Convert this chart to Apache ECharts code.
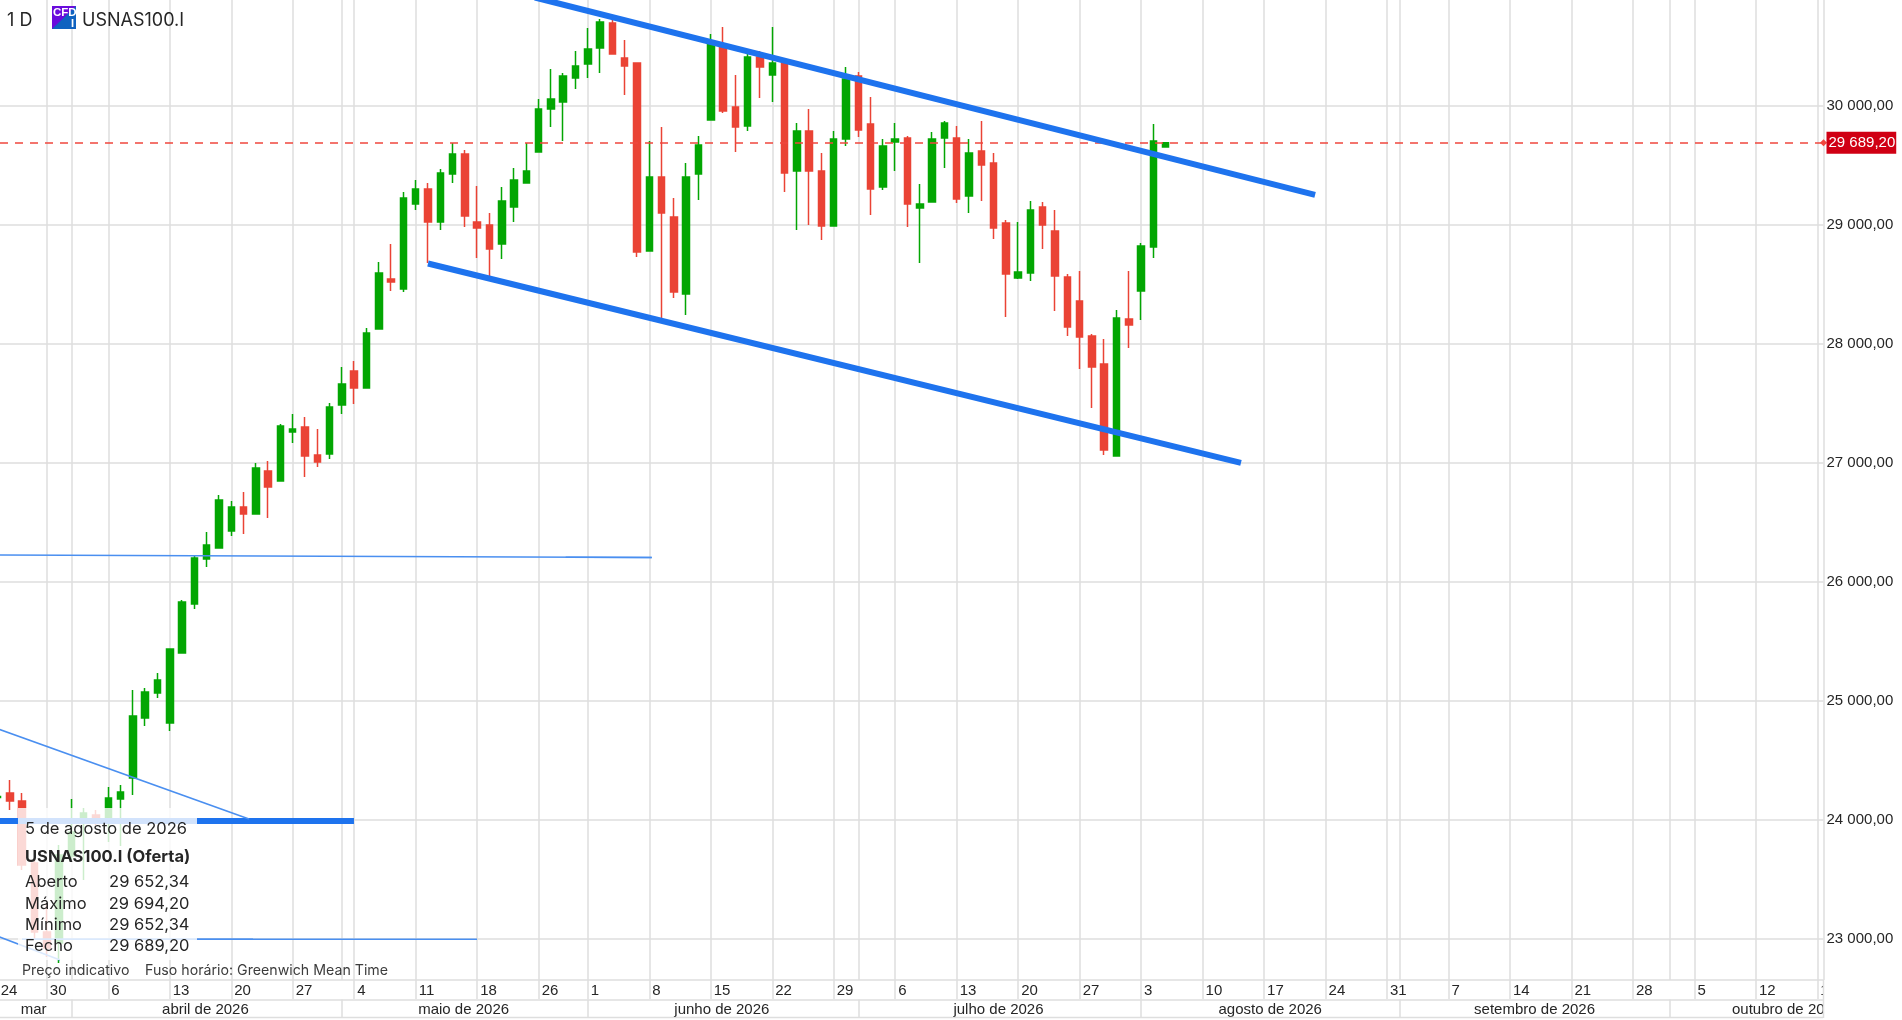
<!DOCTYPE html>
<html><head><meta charset="utf-8">
<style>html,body{margin:0;padding:0;background:#fff;overflow:hidden}#c{width:1902px;height:1020px}</style>
<script src="https://cdn.jsdelivr.net/npm/echarts@6/dist/echarts.min.js"></script>
</head><body><div id="c"></div>
<script>
const dates = [
'03-24','03-25','03-26','03-27',
'03-30','03-31','04-01','04-02','04-03','04-06','04-07','04-08','04-09','04-10','04-13','04-14','04-15','04-16','04-17',
'04-20','04-21','04-22','04-23','04-24','04-27','04-28','04-29','04-30','05-01','05-04','05-05','05-06','05-07','05-08',
'05-11','05-12','05-13','05-14','05-15','05-18','05-19','05-20','05-21','05-22','05-26','05-27','05-28','05-29',
'06-01','06-02','06-03','06-04','06-05','06-08','06-09','06-10','06-11','06-12','06-15','06-16','06-17','06-18','06-19',
'06-22','06-23','06-24','06-25','06-26','06-29','06-30','07-01','07-02','07-03','07-06','07-07','07-08','07-09','07-10',
'07-13','07-14','07-15','07-16','07-17','07-20','07-21','07-22','07-23','07-24','07-27','07-28','07-29','07-30','07-31',
'08-03','08-04','08-05','08-06','08-07','08-10','08-11','08-12','08-13','08-14','08-17','08-18','08-19','08-20','08-21',
'08-24','08-25','08-26','08-27','08-28','08-31','09-01','09-02','09-03','09-04','09-07','09-08','09-09','09-10','09-11',
'09-14','09-15','09-16','09-17','09-18','09-21','09-22','09-23','09-24','09-25','09-28','09-29','09-30','10-01','10-02',
'10-05','10-06','10-07','10-08','10-09','10-12','10-13','10-14','10-15','10-16','10-19'];
const opens = [24187,24224,24157,23636,23056,22964,23695,23981,24040,23981,24174,24350,24855,25065,24813,25401,25813,26191,26283,26426,
26628,26569,26930,26846,27258,27300,27065,27073,27485,27770,27628,28123,28544,28459,29174,29300,29023,29426,29594,29023,
28997,28838,29149,29350,29611,29972,30031,30233,30350,30485,30695,30401,30359,28779,29401,29065,28417,29426,29880,30493,
29989,29829,30409,30258,30359,29451,29787,29451,28989,29720,30249,29846,29317,29695,29728,29140,29191,29728,29728,29241,
29619,29518,29014,28552,28594,29149,28947,28560,28359,28065,27829,27056,28207,28443,28812,29652.34];
const closes = [24195,24157,23619,23056,22922,23703,23897,24056,23981,24182,24233,24871,25073,25174,25434,25829,26199,26308,26686,26628,
26569,26955,26796,27308,27283,27056,27006,27468,27661,27628,28090,28594,28518,29224,29300,29023,29434,29594,29073,28972,
28796,29199,29375,29451,29972,30056,30249,30333,30476,30703,30434,30333,28770,29401,29098,28434,29401,29670,30527,29955,
29821,30409,30325,30359,29434,29787,29451,28989,29720,30224,29796,29300,29661,29720,29174,29174,29720,29854,29216,29602,
29502,28972,28586,28602,29123,28997,28569,28140,28056,27804,27107,28216,28157,28821,29703,29689.20];
const lows = [24174,24082,23577,22989,22846,22796,23661,23493,23956,23813,23779,24208,24787,25023,24745,25401,25771,26123,26283,26384,
26401,26569,26535,26846,27165,26880,26964,27031,27409,27493,27628,28123,28443,28434,29123,28678,28955,29350,28981,28720,
28569,28712,29023,29350,29611,29821,29703,30140,30233,30275,30434,30090,28728,28779,28216,28384,28241,29207,29880,29938,
29611,29787,30065,30031,29275,28955,28997,28871,28989,29661,29737,29081,29291,29451,28981,28678,29191,29476,29182,29098,
29199,28880,28224,28544,28527,28796,28275,28065,27787,27460,27065,27056,27964,28199,28720,29652.34];
const highs = [24208,24334,24224,23661,23300,23787,24174,24098,24082,24275,24292,25090,25107,25233,25440,25846,26216,26418,26728,26678,
26754,26997,27014,27325,27409,27384,27283,27502,27804,27854,28132,28686,28838,29275,29375,29350,29468,29686,29628,29325,
29098,29317,29476,29686,30056,30308,30275,30459,30653,30728,30720,30552,30359,29703,29821,29224,29518,29745,30602,30661,
30258,30443,30459,30661,30375,29854,29972,29602,29787,30325,30283,30073,29720,29854,29745,29342,29779,29871,29829,29720,
29871,29602,29039,29023,29199,29191,29123,28586,28611,28081,28039,28283,28611,28846,29846,29694.20];
const weekDates = ['03-24','03-30','04-06','04-13','04-20','04-27','05-04','05-11','05-18','05-26','06-01','06-08','06-15','06-22','06-29','07-06','07-13','07-20','07-27','08-03','08-10','08-17','08-24','08-31','09-07','09-14','09-21','09-28','10-05','10-12','10-19'];
const monthStartDates = ['04-01','05-01','06-01','07-01','08-03','09-01','10-01'];
const monthNames = ['mar','abril de 2026','maio de 2026','junho de 2026','julho de 2026','agosto de 2026','setembro de 2026','outubro de 2026'];
const monthCentres = [2.92,16.9,37.9,58.9,81.4,103.5,125,145.5];
const priceTicks = [23000,24000,25000,26000,27000,28000,29000,30000];
const lastPrice = 29689.20;
const thickLines = [
  [[43.7,30909],[107.15,29251]],
  [[35.0,28674],[101.12,26999]],
  [[-0.5,23989],[28.98,23989]]
];
const thinLines = [
  [[-0.5,26225],[53.2,26203]],
  [[46.2,26205],[53.2,26203]],
  [[-0.5,24783],[20.44,24006]],
  [[1.98,22995],[38.99,22995]],
  [[1.98,22995],[20.77,22995]],
  [[-0.5,23040],[5.07,22821]]
];
const tooltipRows = [['Aberto','29 652,34'],['Máximo','29 694,20'],['Mínimo','29 652,34'],['Fecho','29 689,20']];

const GRID='#dedede', GREEN='#03a603', RED='#ea4335', AXF='"Liberation Sans",Arial,sans-serif', UIF='Inter,sans-serif', BLUE='#1e73ee', TXT='#262626';
const fmt = v => { const s=v.toFixed(2).split('.'); return s[0].replace(/\B(?=(\d{3})+$)/g,'\u00a0')+','+s[1]; };
const weekIdx = weekDates.map(d=>dates.indexOf(d));
const monthIdx = monthStartDates.map(d=>dates.indexOf(d));
const gridIdx = [...new Set([...weekIdx,...monthIdx])].sort((a,b)=>a-b);
const xmin=-0.5, xmax=dates.length-0.5;

const lineSeries=(d,w,c)=>({type:'line',xAxisIndex:1,yAxisIndex:0,data:d,symbol:'none',silent:true,z:6,lineStyle:{width:w,color:c,cap:'butt'},animation:false});

const txt=(text,x,y,font,extra)=>({type:'text',z:101,silent:true,style:Object.assign({text,x,y,font,fill:TXT,verticalAlign:'middle',align:'left'},extra||{})});
const graphics=[
  {type:'rect',z:90,silent:true,shape:{x:1824,y:980,width:78,height:40},style:{fill:'#fff'}},
  {type:'line',z:91,silent:true,shape:{x1:0,y1:1017.5,x2:1823,y2:1017.5},style:{stroke:GRID,lineWidth:1.5}},
  {type:'line',z:91,silent:true,shape:{x1:1823.5,y1:980,x2:1823.5,y2:1018},style:{stroke:GRID,lineWidth:1.5}},
  {type:'rect',z:100,silent:true,shape:{x:18,y:808,width:179,height:152},style:{fill:'rgba(255,255,255,0.8)'}},
  txt('5 de agosto de 2026',25,829.5,'16.5px '+UIF),
  txt('USNAS100.I (Oferta)',25,857,'bold 16.5px '+UIF),
  ...tooltipRows.flatMap((r,i)=>{const y=[882,904,925,946][i];return [txt(r[0],25,y,'16.5px '+UIF),txt(r[1],189.5,y,'16.5px '+UIF,{align:'right'})];}),
  txt('Preço indicativo',22,970.5,'14.2px '+UIF,{fill:'#3c3c3c'}),
  txt('Fuso horário: Greenwich Mean Time',145,970.5,'14.2px '+UIF,{fill:'#3c3c3c'}),
  txt('1\u00a0D',7,20.5,'18px '+UIF),
  txt('USNAS100.I',82,20.5,'18px '+UIF),
  {type:'rect',z:100,silent:true,shape:{x:52,y:6,width:24,height:23},style:{fill:'#6a0bdc'}},
  {type:'polygon',z:100,silent:true,shape:{points:[[76,6],[76,29],[52,29]]},style:{fill:'#0f62c0'}},
  txt('CFD',53,13,'bold 11.5px "Liberation Sans",sans-serif',{fill:'#fff'}),
  txt('I',71,23.5,'bold 11px "Liberation Sans",sans-serif',{fill:'#fff'})
];

const chart=echarts.init(document.getElementById('c'),null,{renderer:'canvas'});
chart.setOption({
  animation:false,
  backgroundColor:'#fff',
  grid:{left:-8.5,top:0,width:1832,height:980,containLabel:false,outerBoundsMode:'none'},
  xAxis:[
    {type:'category',data:dates,position:'bottom',boundaryGap:true,
      axisLine:{show:true,lineStyle:{color:GRID,width:1.5}},
      axisTick:{show:true,alignWithLabel:true,length:19,interval:(i)=>weekIdx.includes(i),lineStyle:{color:GRID,width:1.5}},
      axisLabel:{show:true,interval:(i)=>weekIdx.includes(i),formatter:(v)=>String(parseInt(v.slice(3),10)),align:'left',padding:[0,0,0,3],margin:3,fontFamily:AXF,fontSize:15,color:TXT,hideOverlap:false},
      splitLine:{show:false}},
    {type:'value',min:xmin,max:xmax,position:'bottom',offset:19.5,
      axisLine:{show:true,onZero:false,lineStyle:{color:GRID,width:1.5}},
      axisTick:{show:true,length:18,customValues:monthIdx,lineStyle:{color:GRID,width:1.5}},
      axisLabel:{show:true,customValues:monthCentres,formatter:(v)=>monthNames[monthCentres.indexOf(v)],margin:3,fontFamily:AXF,fontSize:15,color:TXT,hideOverlap:false},
      splitLine:{show:false}},
    {type:'value',min:xmin,max:xmax,position:'top',
      axisLine:{show:false},axisLabel:{show:false},
      axisTick:{show:false,customValues:gridIdx},
      splitLine:{show:true,lineStyle:{color:GRID,width:1.5}}}
  ],
  yAxis:{type:'value',position:'right',min:22653,max:30888,
    axisLine:{show:true,onZero:false,lineStyle:{color:GRID,width:1.5}},
    axisTick:{show:false,customValues:priceTicks},
    axisLabel:{show:true,customValues:priceTicks,formatter:fmt,margin:3,fontFamily:AXF,fontSize:15,color:TXT,verticalAlign:'middle',padding:[0,0,3,0],hideOverlap:false},
    splitLine:{show:true,lineStyle:{color:GRID,width:1.5}}},
  graphic:graphics,
  series:[
    {type:'candlestick',xAxisIndex:0,yAxisIndex:0,barWidth:7,z:3,silent:true,
      data:opens.map((o,i)=>[o,closes[i],lows[i],highs[i]]),
      itemStyle:{color:GREEN,color0:RED,borderColor:GREEN,borderColor0:RED,borderWidth:1.5},
      markLine:{silent:true,animation:false,symbol:['none','diamond'],symbolSize:[7,7],precision:2,
        lineStyle:{type:[8,7],dashOffset:6.5,color:'#f0473e',width:1.5},
        data:[{yAxis:lastPrice}],
        label:{show:true,position:'end',distance:3,formatter:()=>fmt(lastPrice),color:'#fff',backgroundColor:'#d00014',padding:[4,1,3,2],fontFamily:AXF,fontSize:15}}},
    ...thickLines.map(d=>lineSeries(d,6,BLUE)),
    ...thinLines.map(d=>lineSeries(d,1.6,'#4a8ff0'))
  ]
});
</script></body></html>
